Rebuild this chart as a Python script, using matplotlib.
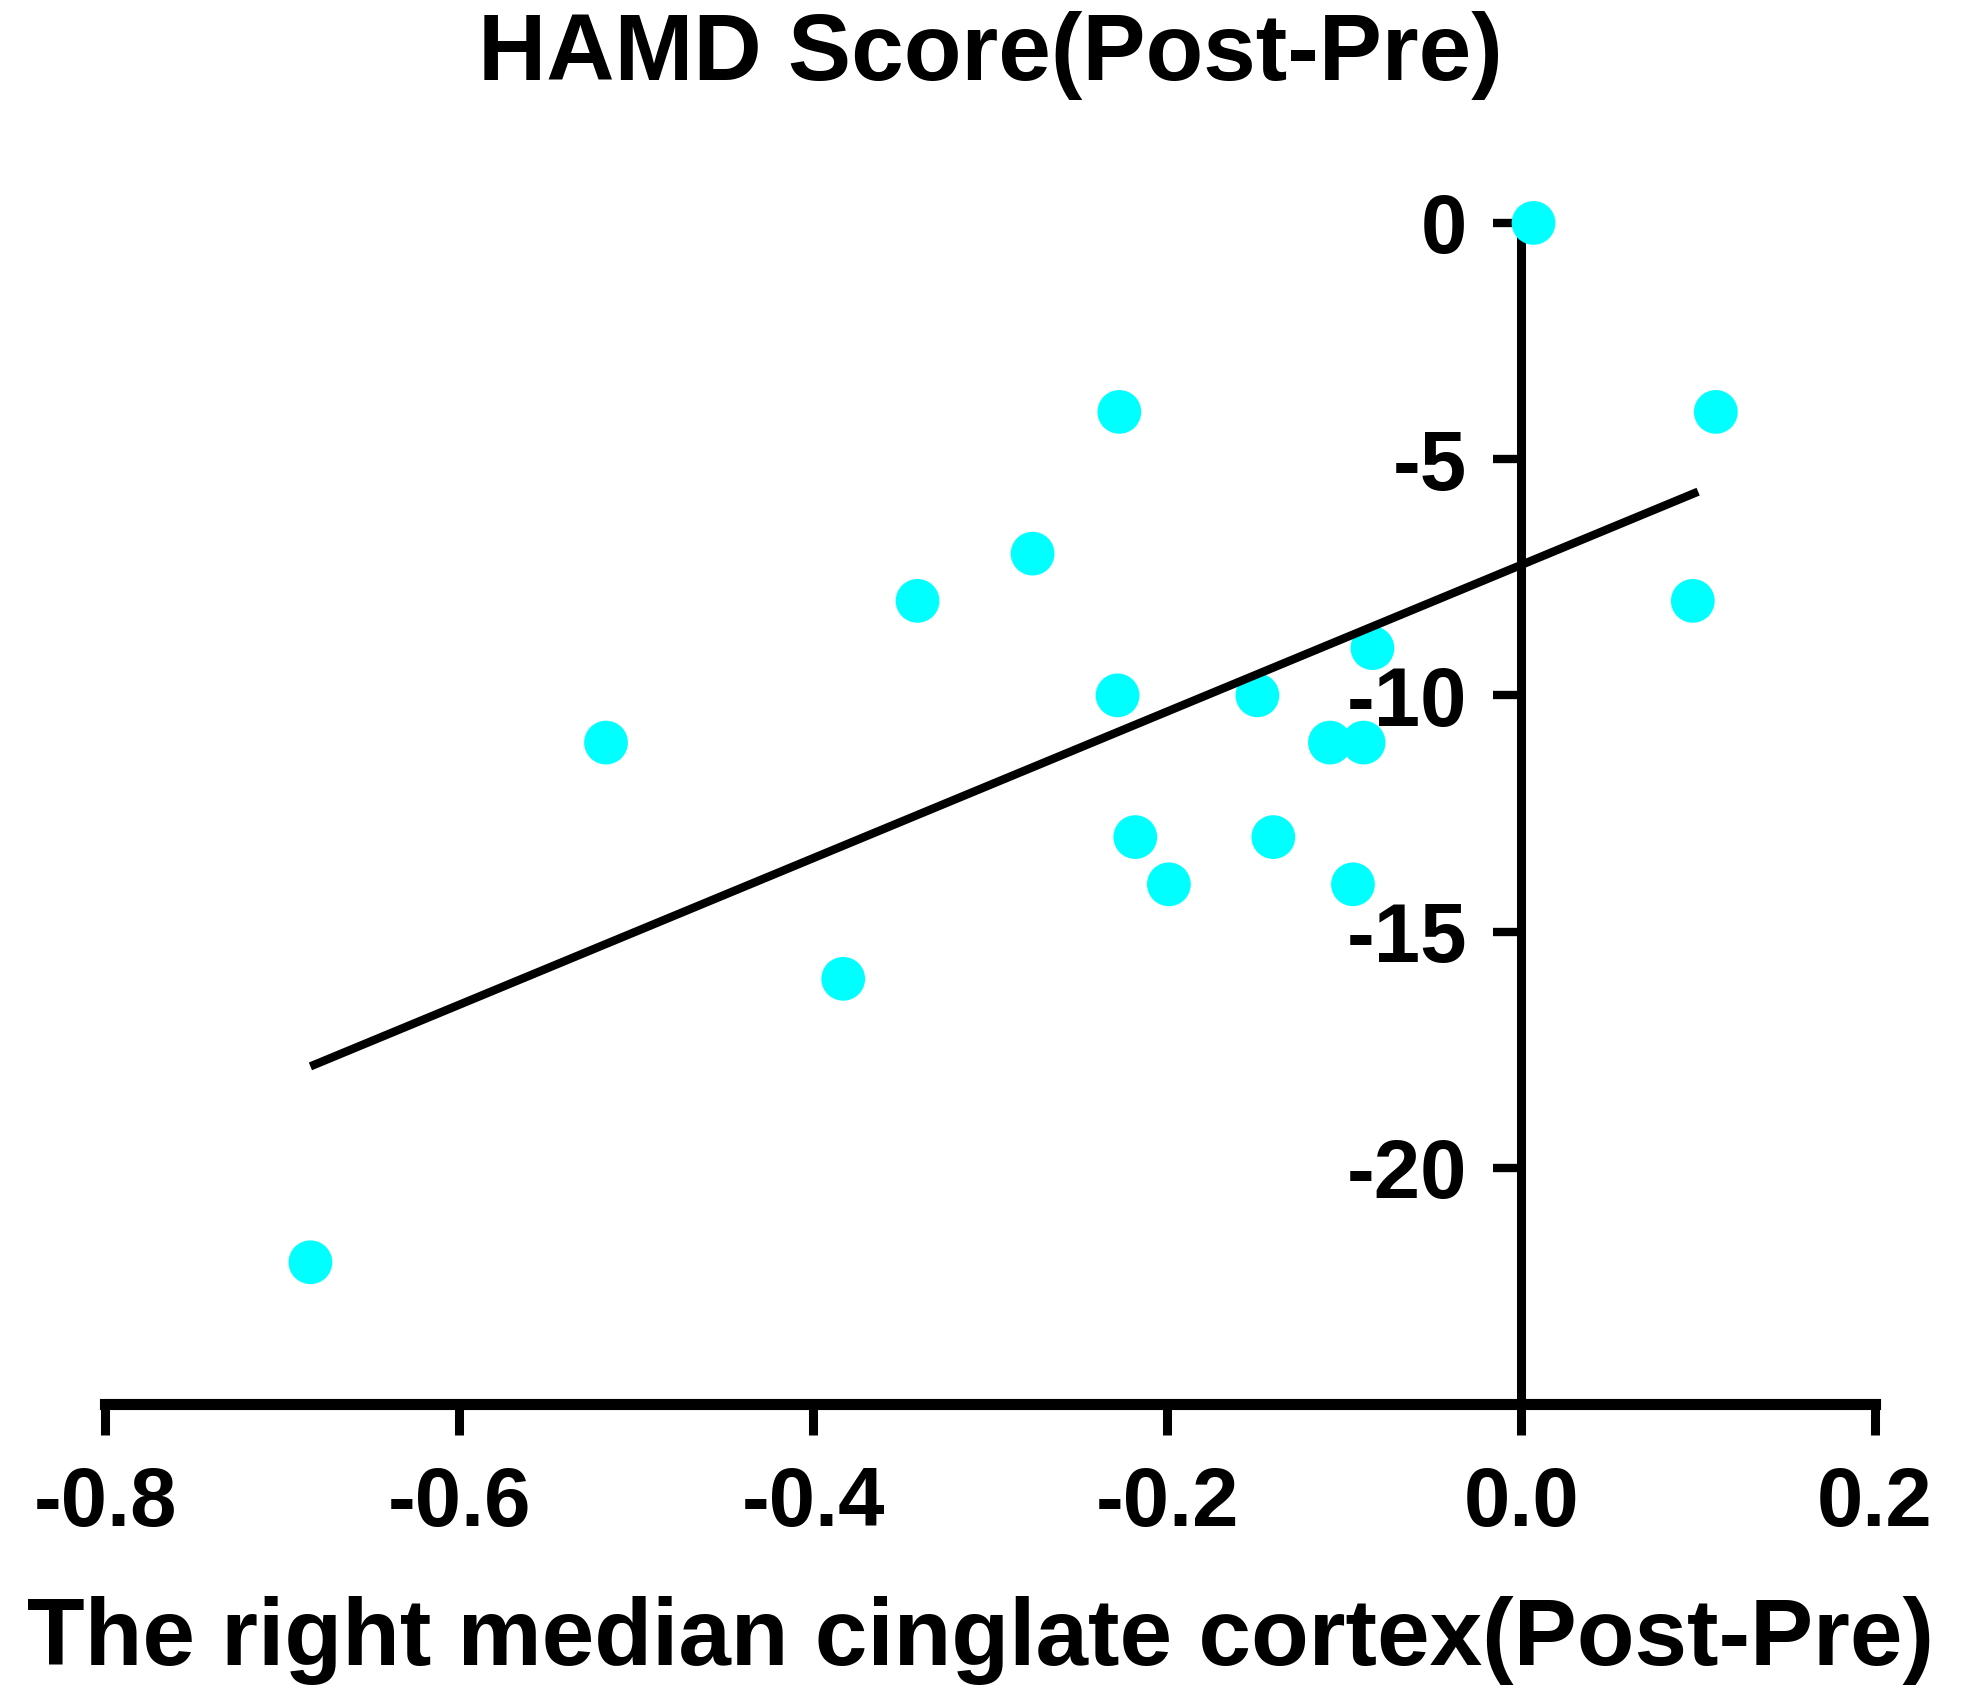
import numpy as np
import matplotlib
matplotlib.use("Agg")
import matplotlib.pyplot as plt

plt.rcParams['font.family'] = ['Liberation Sans', 'DejaVu Sans']
plt.rcParams['font.weight'] = 'bold'
plt.rcParams['axes.unicode_minus'] = False

# data
mcc_change = [0.007, -0.227, 0.110, -0.276, -0.341, 0.097, -0.084, -0.228, -0.149,
              -0.517, -0.108, -0.089, -0.218, -0.140, -0.199, -0.095, -0.383, -0.684]
hamd_change = [0, -4, -4, -7, -8, -8, -9, -10, -10,
               -11, -11, -11, -13, -13, -14, -14, -16, -22]
fit_x_range = [-0.684, 0.100]

x_ticks = [-0.8, -0.6, -0.4, -0.2, 0.0, 0.2]
x_tick_labels = ['-0.8', '-0.6', '-0.4', '-0.2', '0.0', '0.2']
y_ticks = [0, -5, -10, -15, -20]
y_tick_labels = ['0', '-5', '-10', '-15', '-20']

x = np.array(mcc_change)
y = np.array(hamd_change)
slope, intercept = np.polyfit(x, y, 1)
fx = np.array(fit_x_range)

fig = plt.figure(figsize=(19.83, 16.94), dpi=100)
ax = fig.add_axes([0.0530, 0.1712, 0.8926, 0.6972])

ax.scatter(x, y, s=31.5**2, color='#00FFFF', edgecolors='none', zorder=3, clip_on=False)
ax.plot(fx, slope * fx + intercept, color='black', lw=6, zorder=4,
        solid_capstyle='butt')

ax.set_xlim(-0.8, 0.2)
ax.set_ylim(-25, 0)

ax.spines['top'].set_visible(False)
ax.spines['right'].set_visible(False)
ax.spines['left'].set_position(('data', 0))
ax.spines['left'].set_linewidth(6.5)
ax.spines['bottom'].set_linewidth(8)

ax.set_xticks(x_ticks)
ax.set_xticklabels(x_tick_labels)
ax.set_yticks(y_ticks)
ax.set_yticklabels(y_tick_labels)
ax.tick_params(axis='x', length=22, width=6.5, pad=22, labelsize=60, direction='out')
ax.tick_params(axis='y', length=20, width=6, pad=19, labelsize=60, direction='out')
for lab in ax.get_xticklabels() + ax.get_yticklabels():
    lab.set_fontweight('bold')

fig.text(0.4992, 1 - 80 / 1694, 'HAMD Score(Post-Pre)', ha='center', va='baseline',
         fontsize=68, fontweight='bold')
fig.text(0.4947, 1 - 1665 / 1694, 'The right median cinglate cortex(Post-Pre)',
         ha='center', va='baseline', fontsize=68, fontweight='bold')

fig.savefig('out.png', dpi=100, facecolor='white')
